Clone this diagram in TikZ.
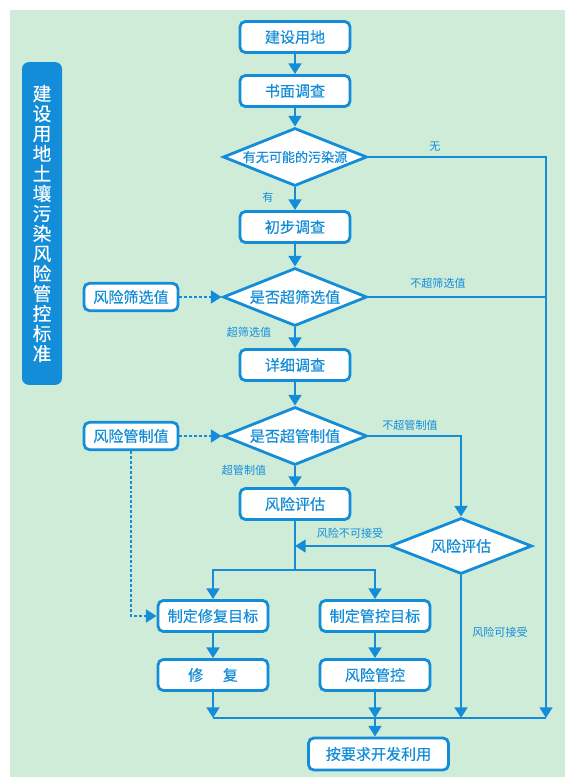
\documentclass[tikz,border=0pt]{standalone}
\usepackage{fontspec}
\setmainfont{Noto Sans CJK SC}[FakeBold=0.35]
\newfontfamily\labfont{Noto Sans CJK SC}
\usetikzlibrary{shapes.geometric,arrows.meta}
\definecolor{fblue}{RGB}{19,141,216}
\definecolor{fgreen}{RGB}{207,236,217}
\begin{document}
\begin{tikzpicture}[x=0.75pt,y=-0.75pt,
  box/.style={draw=fblue,fill=white,line width=2.1pt,rounded corners=4pt,
    minimum width=82.5pt,minimum height=23.25pt,inner sep=0pt,text=fblue,
    font=\fontsize{11.3}{13}\selectfont},
  dia/.style={diamond,draw=fblue,fill=white,line width=2.1pt,aspect=2.5,inner sep=0pt,
    minimum width=108pt,minimum height=43.5pt,text=fblue,font=\fontsize{11.3}{13}\selectfont},
  tip/.style={-{Triangle[width=9.5pt,length=8pt]}},
  conn/.style={draw=fblue,line width=2.2pt,tip},
  wire/.style={draw=fblue,line width=2.2pt},
  dots/.style={draw=fblue,line width=2.2pt,dash pattern=on 2.2pt off 1.5pt},
  lab/.style={text=fblue,font=\labfont\fontsize{8.3}{10}\selectfont}]
\useasboundingbox (0,0) rectangle (574,784);
\fill[fgreen] (10,10) rectangle (565,777);

\node[fill=fblue,rounded corners=5pt,minimum width=30pt,minimum height=242pt,inner sep=0pt,
  text=white,align=center,font=\fontsize{14}{15}\selectfont] (t) at (42,223.5)
  {建\\设\\用\\地\\土\\壤\\污\\染\\风\\险\\管\\控\\标\\准};

\node[box] (n1) at (295,37) {建设用地};
\node[box] (n2) at (295,91) {书面调查};
\node[dia,font=\fontsize{9.8}{12}\selectfont] (d1) at (295,157) {有无可能的污染源};
\node[box] (n3) at (295,227) {初步调查};
\node[dia] (d2) at (295,297) {是否超筛选值};
\node[box,minimum width=70.5pt,minimum height=20.5pt] (s1) at (131,297) {风险筛选值};
\node[box] (n4) at (295,365) {详细调查};
\node[dia] (d3) at (295,436) {是否超管制值};
\node[box,minimum width=70.5pt,minimum height=20.5pt] (s2) at (131,436) {风险管制值};
\node[box] (n5) at (295,504) {风险评估};
\node[dia,aspect=2.54,minimum width=106.5pt,minimum height=42pt] (d4) at (461,546) {风险评估};
\node[box] (m1) at (213,616) {制定修复目标};
\node[box] (m2) at (375,616) {制定管控目标};
\node[box] (r1) at (213,675) {修\hspace{1.3em}复};
\node[box] (r2) at (375,675) {风险管控};
\node[box,minimum width=105pt,minimum height=24pt] (f) at (378.5,754) {按要求开发利用};

\coordinate (j1) at (213,718);
\coordinate (j2) at (375,718);
\coordinate (j3) at (461,718);
\coordinate (j4) at (546,718);
\coordinate (split) at (295,570);

\draw[conn] (n1) -- (n2);
\draw[conn] (n2) -- (d1);
\draw[conn] (d1) -- (n3);
\draw[conn] (n3) -- (d2);
\draw[conn] (d2) -- (n4);
\draw[conn] (n4) -- (d3);
\draw[conn] (d3) -- (n5);
\draw[dots,tip] (s1) -- (d2);
\draw[dots,tip] (s2) -- (d3);
\draw[dots,tip] (s2.south) |- (m1.west);
\draw[conn] (d1.east) -| (j4);
\draw[wire] (d2.east) -- (d2.east -| j4);
\draw[conn] (d3.east) -| (d4.north);
\draw[conn] (d4.west) -- (d4.west -| n5.south);
\draw[wire] (n5.south) -- (split);
\draw[conn] (split) -| (m1.north);
\draw[conn] (split) -| (m2.north);
\draw[conn] (m1) -- (r1);
\draw[conn] (m2) -- (r2);
\draw[conn] (r1) -- (j1);
\draw[conn] (r2) -- (j2);
\draw[conn] (d4.south) -- (j3);
\draw[wire] (j1) -- (j4);
\draw[conn] (j2) -- (j2 |- f.north);

\node[lab] at (435,147) {无};
\node[lab] at (268,197) {有};
\node[lab] at (438,283) {不超筛选值};
\node[lab] at (249,332) {超筛选值};
\node[lab] at (410,425) {不超管制值};
\node[lab] at (244,470) {超管制值};
\node[lab] at (350,533) {风险不可接受};
\node[lab] at (500,632) {风险可接受};
\end{tikzpicture}
\end{document}
